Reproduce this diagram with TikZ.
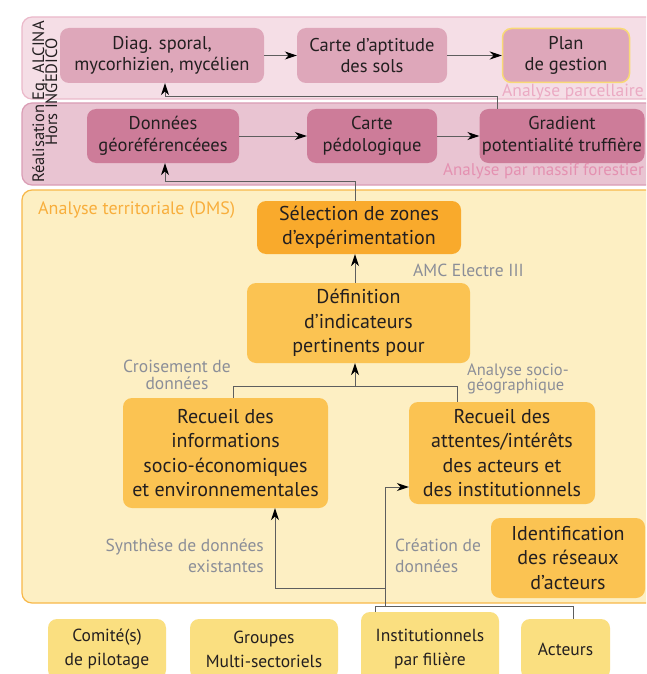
\documentclass[tikz,border=0pt]{standalone}
\usepackage{fontspec}
\setmainfont{PT Sans}
\usetikzlibrary{arrows.meta}
\definecolor{bandA}{HTML}{F5DEE6}
\definecolor{bandAb}{HTML}{EBB9CA}
\definecolor{bandB}{HTML}{E9C4D2}
\definecolor{bandBb}{HTML}{DA9DB5}
\definecolor{bandC}{HTML}{FDEFC3}
\definecolor{bandCb}{HTML}{F8B849}
\definecolor{nodeA}{HTML}{DEA7BA}
\definecolor{nodeB}{HTML}{CD7C99}
\definecolor{nodeSel}{HTML}{F9AA2C}
\definecolor{nodeC}{HTML}{FBC352}
\definecolor{nodeD}{HTML}{FADF80}
\definecolor{planb}{HTML}{F8D977}
\definecolor{lblgray}{HTML}{8B8E98}
\definecolor{lblpinkA}{HTML}{EBAAC3}
\definecolor{lblpinkB}{HTML}{E491B1}
\definecolor{lblorange}{HTML}{F8AE3C}
\definecolor{txt}{HTML}{231F20}
\definecolor{conn}{HTML}{5E5E5E}
\tikzset{
  band/.style={rounded corners=10pt, line width=1.2pt},
  box/.style={rounded corners=9pt, align=center, inner sep=0pt, text=txt},
  smallbox/.style={box, font=\fontsize{18.5}{21.5}\selectfont},
  bigbox/.style={box, fill=nodeC, font=\fontsize{20}{24.5}\selectfont},
  basebox/.style={box, fill=nodeD, font=\fontsize{17.5}{24}\selectfont},
  lbl/.style={inner sep=0pt, text=lblgray, font=\fontsize{17.5}{21}\selectfont},
  line/.style={draw=conn, line width=1pt},
  arr/.style={line, -{Stealth[length=12pt,width=8pt,color=black]}},
}
\begin{document}
\begin{tikzpicture}[x=1pt,y=-1pt]
\useasboundingbox (0,0) rectangle (646,674);
\clip (0,0) rectangle (646,674);
\fill[white] (0,0) rectangle (646,674);

% bands
\draw[band, fill=bandA, draw=bandAb] (22,17) rectangle (680,99);
\draw[band, fill=bandB, draw=bandBb] (22,103) rectangle (680,185);
\draw[band, fill=bandC, draw=bandCb] (22,190) rectangle (680,603);

% vertical side labels
\node[rotate=90, anchor=base, inner sep=0pt, text=txt, font=\fontsize{16.5}{16}\selectfont] (side1) at (44,102) {Réalisation Eq. ALCINA};
\node[rotate=90, anchor=base, inner sep=0pt, text=txt, font=\fontsize{16.5}{16}\selectfont] (side2) at (57,92) {Hors INGEDICO};

% band 1 nodes
\node[smallbox, fill=nodeA, minimum width=204pt, minimum height=55pt] (diag) at (162,55.5) {Diag. sporal,\\mycorhizien, mycélien};
\node[smallbox, fill=nodeA, minimum width=150pt, minimum height=55pt] (apt) at (372,55.5) {Carte d’aptitude\\des sols};
\node[smallbox, fill=nodeA, draw=planb, line width=1.5pt, minimum width=127pt, minimum height=54pt] (plan) at (566,55.5) {Plan\\de gestion};
\node[anchor=east, inner sep=0pt, text=lblpinkA, font=\fontsize{17.5}{20}\selectfont] (lparc) at (644,92) {Analyse parcellaire};

% band 2 nodes
\node[smallbox, fill=nodeB, minimum width=152pt, minimum height=54pt] (don) at (163,136) {Données\\géoréférencéees};
\node[smallbox, fill=nodeB, minimum width=130pt, minimum height=54pt] (pedo) at (372,136) {Carte\\pédologique};
\node[smallbox, fill=nodeB, minimum width=165pt, minimum height=54pt] (grad) at (562,136) {Gradient\\potentialité truffière};
\node[anchor=east, inner sep=0pt, text=lblpinkB, font=\fontsize{17}{20}\selectfont] (lmassif) at (644,171) {Analyse par massif forestier};

% band 3 nodes
\node[anchor=west, inner sep=0pt, text=lblorange, font=\fontsize{18}{20}\selectfont] (lterr) at (38,210) {Analyse territoriale (DMS)};
\node[bigbox, fill=nodeSel, minimum width=204pt, minimum height=53pt] (sel) at (359,227.5) {Sélection de zones\\d’expérimentation};
\node[bigbox, minimum width=223pt, minimum height=80pt] (def) at (358.5,323) {Définition\\d’indicateurs\\pertinents pour};
\node[bigbox, minimum width=205pt, minimum height=110pt] (rec1) at (225.5,453) {Recueil des\\informations\\socio-économiques\\et environnementales};
\node[bigbox, minimum width=186pt, minimum height=102pt] (rec2) at (502,453) {Recueil des\\attentes/intérêts\\des acteurs et\\des institutionnels};
\node[bigbox, minimum width=154pt, minimum height=80pt] (ident) at (568,558) {Identification\\des réseaux\\d’acteurs};

% gray labels
\node[lbl, anchor=west] (lamc) at (413,270) {AMC Electre III};
\node[lbl, align=center, font=\fontsize{17.5}{17}\selectfont] (lcrois) at (177,375) {Croisement de\\données};
\node[lbl, align=left, anchor=west, font=\fontsize{16.5}{15.5}\selectfont] (lsocio) at (467,379) {Analyse socio-\\géographique};
\node[lbl, align=right, anchor=east] (lsynth) at (264,556) {Synthèse de données\\existantes};
\node[lbl, align=left, anchor=west] (lcrea) at (395,556) {Création de\\données};

% bottom boxes
\node[basebox, minimum width=118pt, minimum height=60pt] (com) at (107,649) {Comité(s)\\de pilotage};
\node[basebox, minimum width=148pt, minimum height=60pt] (grp) at (264,649) {Groupes\\Multi-sectoriels};
\node[basebox, minimum width=138pt, minimum height=74pt] (inst) at (430,649) {Institutionnels\\par filière};
\node[basebox, minimum width=89pt, minimum height=60pt] (act) at (565.5,649) {Acteurs};

% junction coordinates
\coordinate (j1) at (497,97);
\coordinate (j2) at (165,97);
\coordinate (j3) at (355,181);
\coordinate (j4) at (165,181);
\coordinate (j5) at (355,386);
\coordinate (j6) at (233,386);
\coordinate (j7) at (457,386);
\coordinate (k1) at (375,606);
\coordinate (k2) at (573,606);
\coordinate (k3) at (385,606);
\coordinate (k4) at (385,487);
\coordinate (k5) at (385,588);
\coordinate (k6) at (275,588);

% connectors
\draw[arr] (diag.east) -- (apt.west);
\draw[arr] (apt.east) -- (plan.west);
\draw[arr] (grad.north -| j1) -- (j1) -- (j2) -- (diag.south -| j2);
\draw[arr] (don.east) -- (pedo.west);
\draw[arr] (pedo.east) -- (grad.west);
\draw[arr] (sel.north -| j3) -- (j3) -- (j4) -- (don.south -| j4);
\draw[arr] (def.north -| j3) -- (sel.south -| j3);
\draw[line] (rec1.north -| j6) -- (j6) -- (j7) -- (rec2.north -| j7);
\draw[arr] (j5) -- (def.south -| j5);
\draw[line] (inst.north -| k1) -- (k1) -- (k2) -- (act.north -| k2);
\draw[arr] (k3) -- (k4) -- (rec2.west |- k4);
\draw[arr] (k5) -- (k6) -- (rec1.south -| k6);
\end{tikzpicture}
\end{document}
